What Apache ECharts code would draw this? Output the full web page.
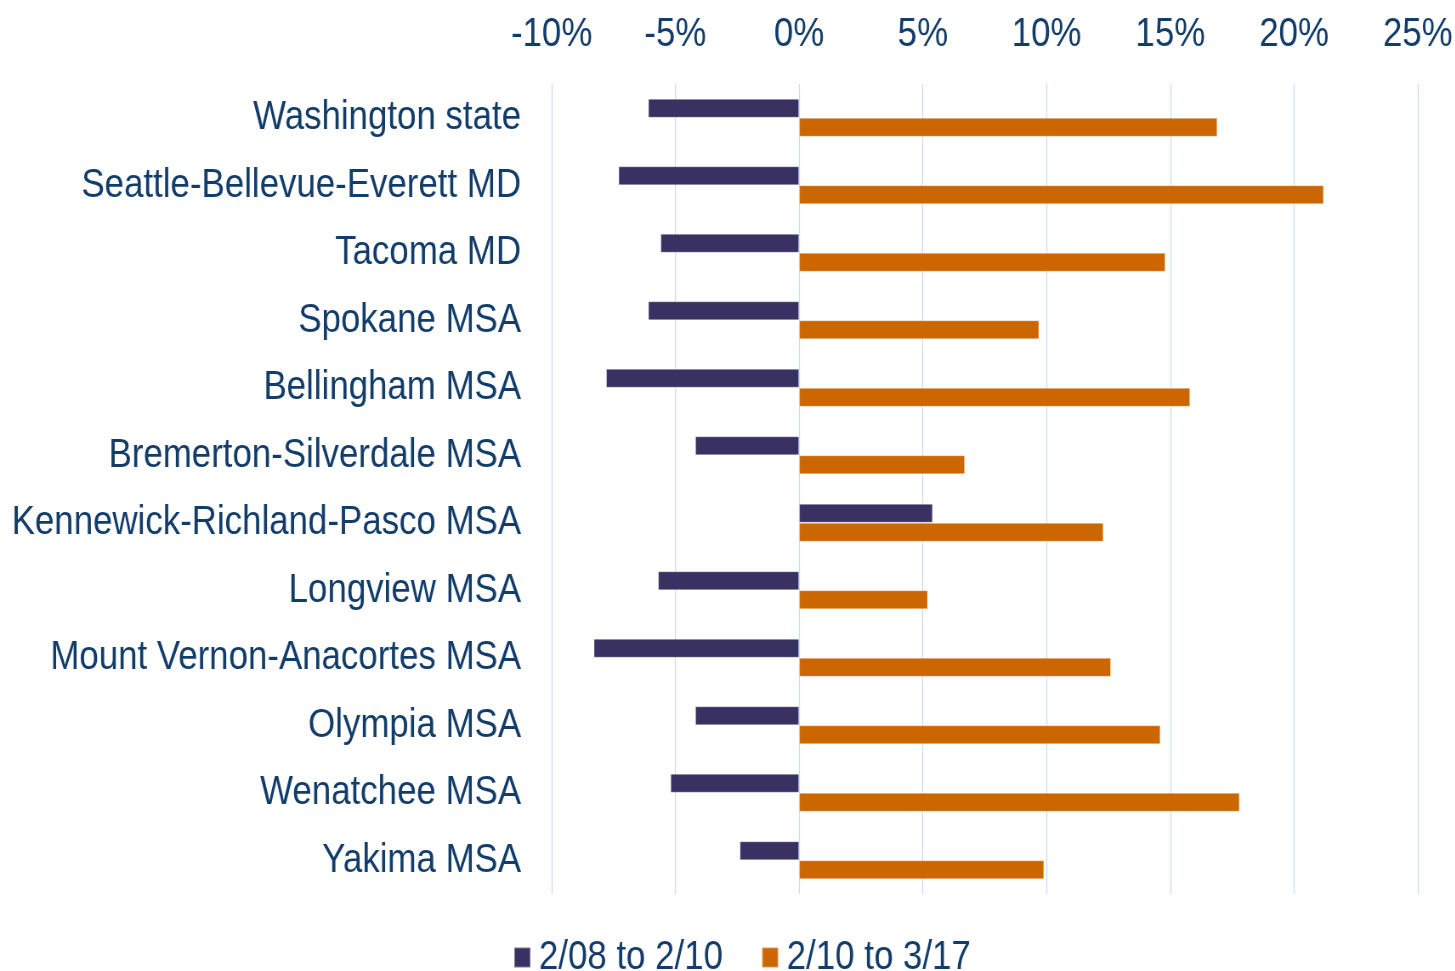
<!DOCTYPE html>
<html>
<head>
<meta charset="utf-8">
<script src="https://cdn.jsdelivr.net/npm/echarts@6/dist/echarts.min.js"></script>
<style>
  html, body { margin: 0; padding: 0; background: #fff; overflow: hidden; }
  #wrap { width: 1455px; height: 971px; overflow: hidden; }
  /* the source uses a narrow face; no narrow font is installed, so squeeze the whole chart */
  #chart { width: 1712px; height: 971px; transform: scaleX(0.85); transform-origin: 0 0; }
</style>
</head>
<body>
<div id="wrap"><div id="chart"></div></div>
<script>
// regions, top to bottom
var regions = [
    'Washington state',
    'Seattle-Bellevue-Everett MD',
    'Tacoma MD',
    'Spokane MSA',
    'Bellingham MSA',
    'Bremerton-Silverdale MSA',
    'Kennewick-Richland-Pasco MSA',
    'Longview MSA',
    'Mount Vernon-Anacortes MSA',
    'Olympia MSA',
    'Wenatchee MSA',
    'Yakima MSA'
];
// percent change
var change0810 = [-6.1, -7.3, -5.6, -6.1, -7.8, -4.2, 5.4, -5.7, -8.3, -4.2, -5.2, -2.4];
var change1017 = [16.9, 21.2, 14.8, 9.7, 15.8, 6.7, 12.3, 5.2, 12.6, 14.6, 17.8, 9.9];
var seriesNames = ['2/08 to 2/10', '2/10 to 3/17'];

var font = '"Liberation Sans", Arial, sans-serif';
var textColor = '#123d6b';

var chart = echarts.init(document.getElementById('chart'));
var option = {
    backgroundColor: '#fff',
    animation: false,
    color: ['#393162', '#cc6600'],
    grid: { left: 649, right: 44, top: 84, bottom: 77, outerBoundsMode: 'none' },
    legend: {
        left: 599,
        top: 932,
        itemWidth: 19,
        itemHeight: 20,
        itemGap: 45,
        icon: 'rect',
        textStyle: { color: textColor, fontSize: 41, fontFamily: font, padding: [0, 0, 0, 5] },
        data: seriesNames
    },
    xAxis: {
        type: 'value',
        position: 'top',
        min: -10,
        max: 25,
        interval: 5,
        axisLine: { show: false },
        axisTick: { show: false },
        splitLine: { show: true, lineStyle: { color: '#c6dbf3', width: 1.2 } },
        axisLabel: {
            formatter: '{value}%',
            color: textColor,
            fontSize: 41,
            fontFamily: font,
            margin: 29
        }
    },
    yAxis: {
        type: 'category',
        inverse: true,
        data: regions,
        axisLine: { show: false },
        axisTick: { show: false },
        axisLabel: {
            color: textColor,
            fontSize: 41,
            fontFamily: font,
            margin: 36,
            padding: [6, 0, 0, 0]
        }
    },
    series: [
        {
            name: seriesNames[0],
            type: 'bar',
            data: change0810,
            barWidth: 19,
            barGap: '0%',
            itemStyle: { borderColor: 'rgba(255,255,255,0.35)', borderWidth: 1 }
        },
        {
            name: seriesNames[1],
            type: 'bar',
            data: change1017,
            barWidth: 19,
            barGap: '0%',
            itemStyle: { borderColor: 'rgba(255,255,255,0.35)', borderWidth: 1 }
        }
    ]
};
chart.setOption(option);
</script>
</body>
</html>
